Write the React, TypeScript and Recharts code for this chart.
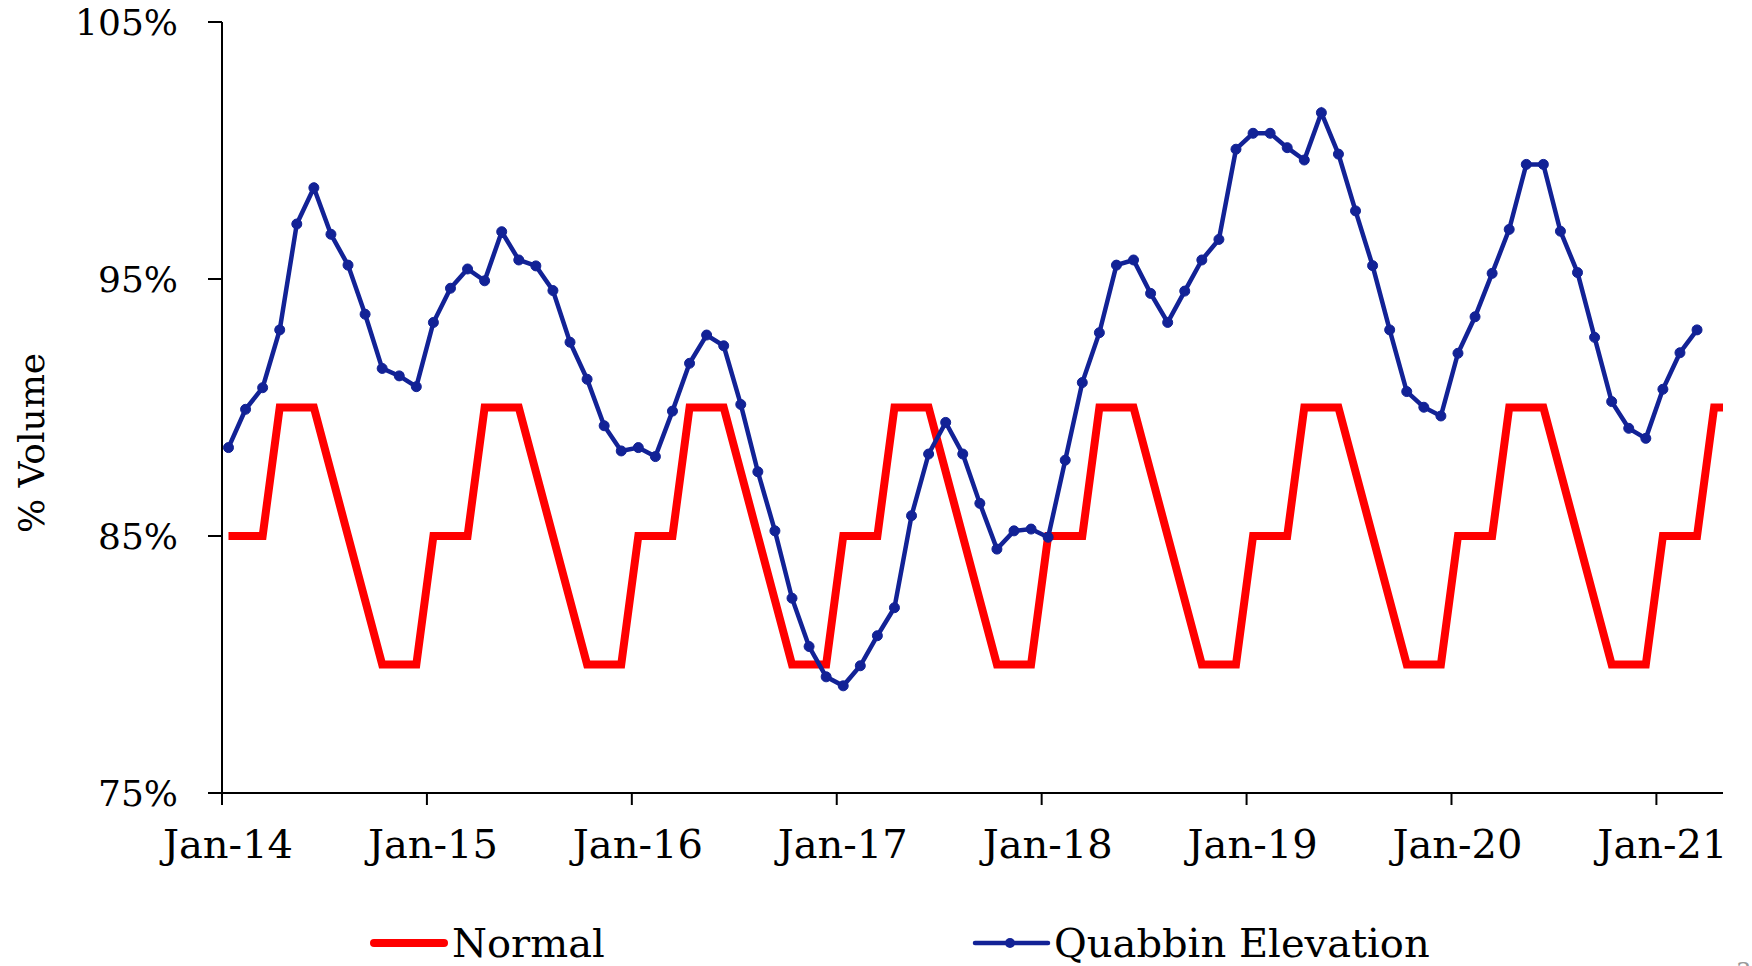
import React from 'react';
import { LineChart, Line, XAxis, YAxis, Label } from 'recharts';

const FONT = '"DejaVu Serif", Georgia, serif';
const RED = '#ff0000';
const BLUE = '#122296';

// x axis: one labelled tick per January
const yearLabels = ['Jan-14', 'Jan-15', 'Jan-16', 'Jan-17', 'Jan-18', 'Jan-19', 'Jan-20', 'Jan-21'];
const yTicks = [75, 85, 95, 105];

// readings sit a little after the 1st of each month
const SAMPLE_DAY = 0.38;

// normal operating curve (% volume), monthly from Jan-14
const normal2014 = [85, 85, 85, 90, 90, 90, 87.5, 85, 82.5, 80, 80, 80];
const normal2015 = [85, 85, 85, 90, 90, 90, 87.5, 85, 82.5, 80, 80, 80];
const normal2016 = [85, 85, 85, 90, 90, 90, 87.5, 85, 82.5, 80, 80, 80];
const normal2017 = [85, 85, 85, 90, 90, 90, 87.5, 85, 82.5, 80, 80, 80];
const normal2018 = [85, 85, 85, 90, 90, 90, 87.5, 85, 82.5, 80, 80, 80];
const normal2019 = [85, 85, 85, 90, 90, 90, 87.5, 85, 82.5, 80, 80, 80];
const normal2020 = [85, 85, 85, 90, 90, 90, 87.5, 85, 82.5, 80, 80, 80];
const normal2021 = [85, 85, 85, 90, 90];

// Quabbin reservoir volume (% full), monthly from Jan-14
const quabbin2014 = [88.44, 89.93, 90.77, 93.02, 97.14, 98.55, 96.74, 95.54, 93.63, 91.52, 91.23, 90.81];
const quabbin2015 = [93.31, 94.64, 95.39, 94.93, 96.84, 95.74, 95.51, 94.55, 92.54, 91.1, 89.29, 88.31];
const quabbin2016 = [88.44, 88.09, 89.86, 91.72, 92.82, 92.4, 90.12, 87.5, 85.2, 82.58, 80.7, 79.52];
const quabbin2017 = [79.17, 79.95, 81.12, 82.21, 85.79, 88.19, 89.42, 88.19, 86.27, 84.49, 85.2, 85.27];
const quabbin2018 = [84.95, 87.95, 90.97, 92.91, 95.54, 95.74, 94.44, 93.31, 94.53, 95.74, 96.54, 100.05];
const quabbin2019 = [100.67, 100.67, 100.11, 99.63, 101.47, 99.86, 97.65, 95.52, 93.02, 90.62, 90.01, 89.67];
const quabbin2020 = [92.11, 93.53, 95.22, 96.93, 99.46, 99.46, 96.86, 95.25, 92.73, 90.23, 89.19, 88.8];
const quabbin2021 = [90.71, 92.13, 93.02];

const normal = [
  ...normal2014, ...normal2015, ...normal2016, ...normal2017,
  ...normal2018, ...normal2019, ...normal2020, ...normal2021,
];
const quabbin = [
  ...quabbin2014, ...quabbin2015, ...quabbin2016, ...quabbin2017,
  ...quabbin2018, ...quabbin2019, ...quabbin2020, ...quabbin2021,
];

const toSeries = (vals: number[]) => vals.map((v, i) => ({ x: i + SAMPLE_DAY, v }));
const normalData = toSeries(normal);
const quabbinData = toSeries(quabbin);

const xTicks = yearLabels.map((_, i) => i * 12);

// legend + page number drawn on top of the chart
const Overlay = () => (
  <svg width={1752} height={966} style={{ position: 'absolute', left: 0, top: 0, pointerEvents: 'none' }}>
    <line x1={374} y1={943} x2={444} y2={943} stroke={RED} strokeWidth={8} strokeLinecap="round" />
    <text x={452} y={957} fontSize={40} fontFamily={FONT} fill="#000">Normal</text>
    <line x1={975} y1={943} x2={1048} y2={943} stroke={BLUE} strokeWidth={4.5} strokeLinecap="round" />
    <circle cx={1010} cy={943} r={5} fill={BLUE} />
    <text x={1054} y={957} fontSize={40} fontFamily={FONT} fill="#000">Quabbin Elevation</text>
    <text x={1736} y={980} fontSize={24} fontFamily={FONT} fill="#999">3</text>
  </svg>
);

export default function App() {
  return (
    <div style={{ position: 'absolute', left: 0, top: 0, width: 1752, height: 966, background: '#fff' }}>
      <LineChart width={1752} height={966} margin={{ top: 22, right: 29, bottom: 73, left: 0 }}>
        <XAxis
          type="number"
          dataKey="x"
          domain={[0, 87.9]}
          ticks={xTicks}
          allowDataOverflow
          tickFormatter={(t) => yearLabels[Math.round(t / 12)]}
          height={100}
          stroke="#000"
          axisLine={{ stroke: '#000', strokeWidth: 2 }}
          tickLine={{ stroke: '#000', strokeWidth: 2 }}
          tickSize={12}
          tickMargin={25}
          tick={{ fill: '#000', fontSize: 40, fontFamily: FONT, dx: 6 }}
        />
        <YAxis
          type="number"
          domain={[75, 105]}
          ticks={yTicks}
          allowDataOverflow
          tickFormatter={(v) => `${v}%`}
          width={222}
          stroke="#000"
          axisLine={{ stroke: '#000', strokeWidth: 2 }}
          tickLine={{ stroke: '#000', strokeWidth: 2 }}
          tickSize={14}
          tickMargin={30}
          tick={{ fill: '#000', fontSize: 36, fontFamily: FONT }}
        >
          <Label
            content={() => (
              <text
                x={31}
                y={443}
                transform="rotate(-90 31 443)"
                textAnchor="middle"
                dominantBaseline="central"
                fontSize={36}
                fontFamily={FONT}
                fill="#000"
              >
                % Volume
              </text>
            )}
          />
        </YAxis>
        <Line
          data={normalData}
          dataKey="v"
          type="linear"
          stroke={RED}
          strokeWidth={8}
          strokeLinejoin="miter"
          dot={false}
          activeDot={false}
          isAnimationActive={false}
        />
        <Line
          data={quabbinData}
          dataKey="v"
          type="linear"
          stroke={BLUE}
          strokeWidth={4.5}
          dot={{ r: 5, fill: BLUE, stroke: BLUE, strokeWidth: 1 }}
          activeDot={false}
          isAnimationActive={false}
        />
      </LineChart>
      <Overlay />
    </div>
  );
}
